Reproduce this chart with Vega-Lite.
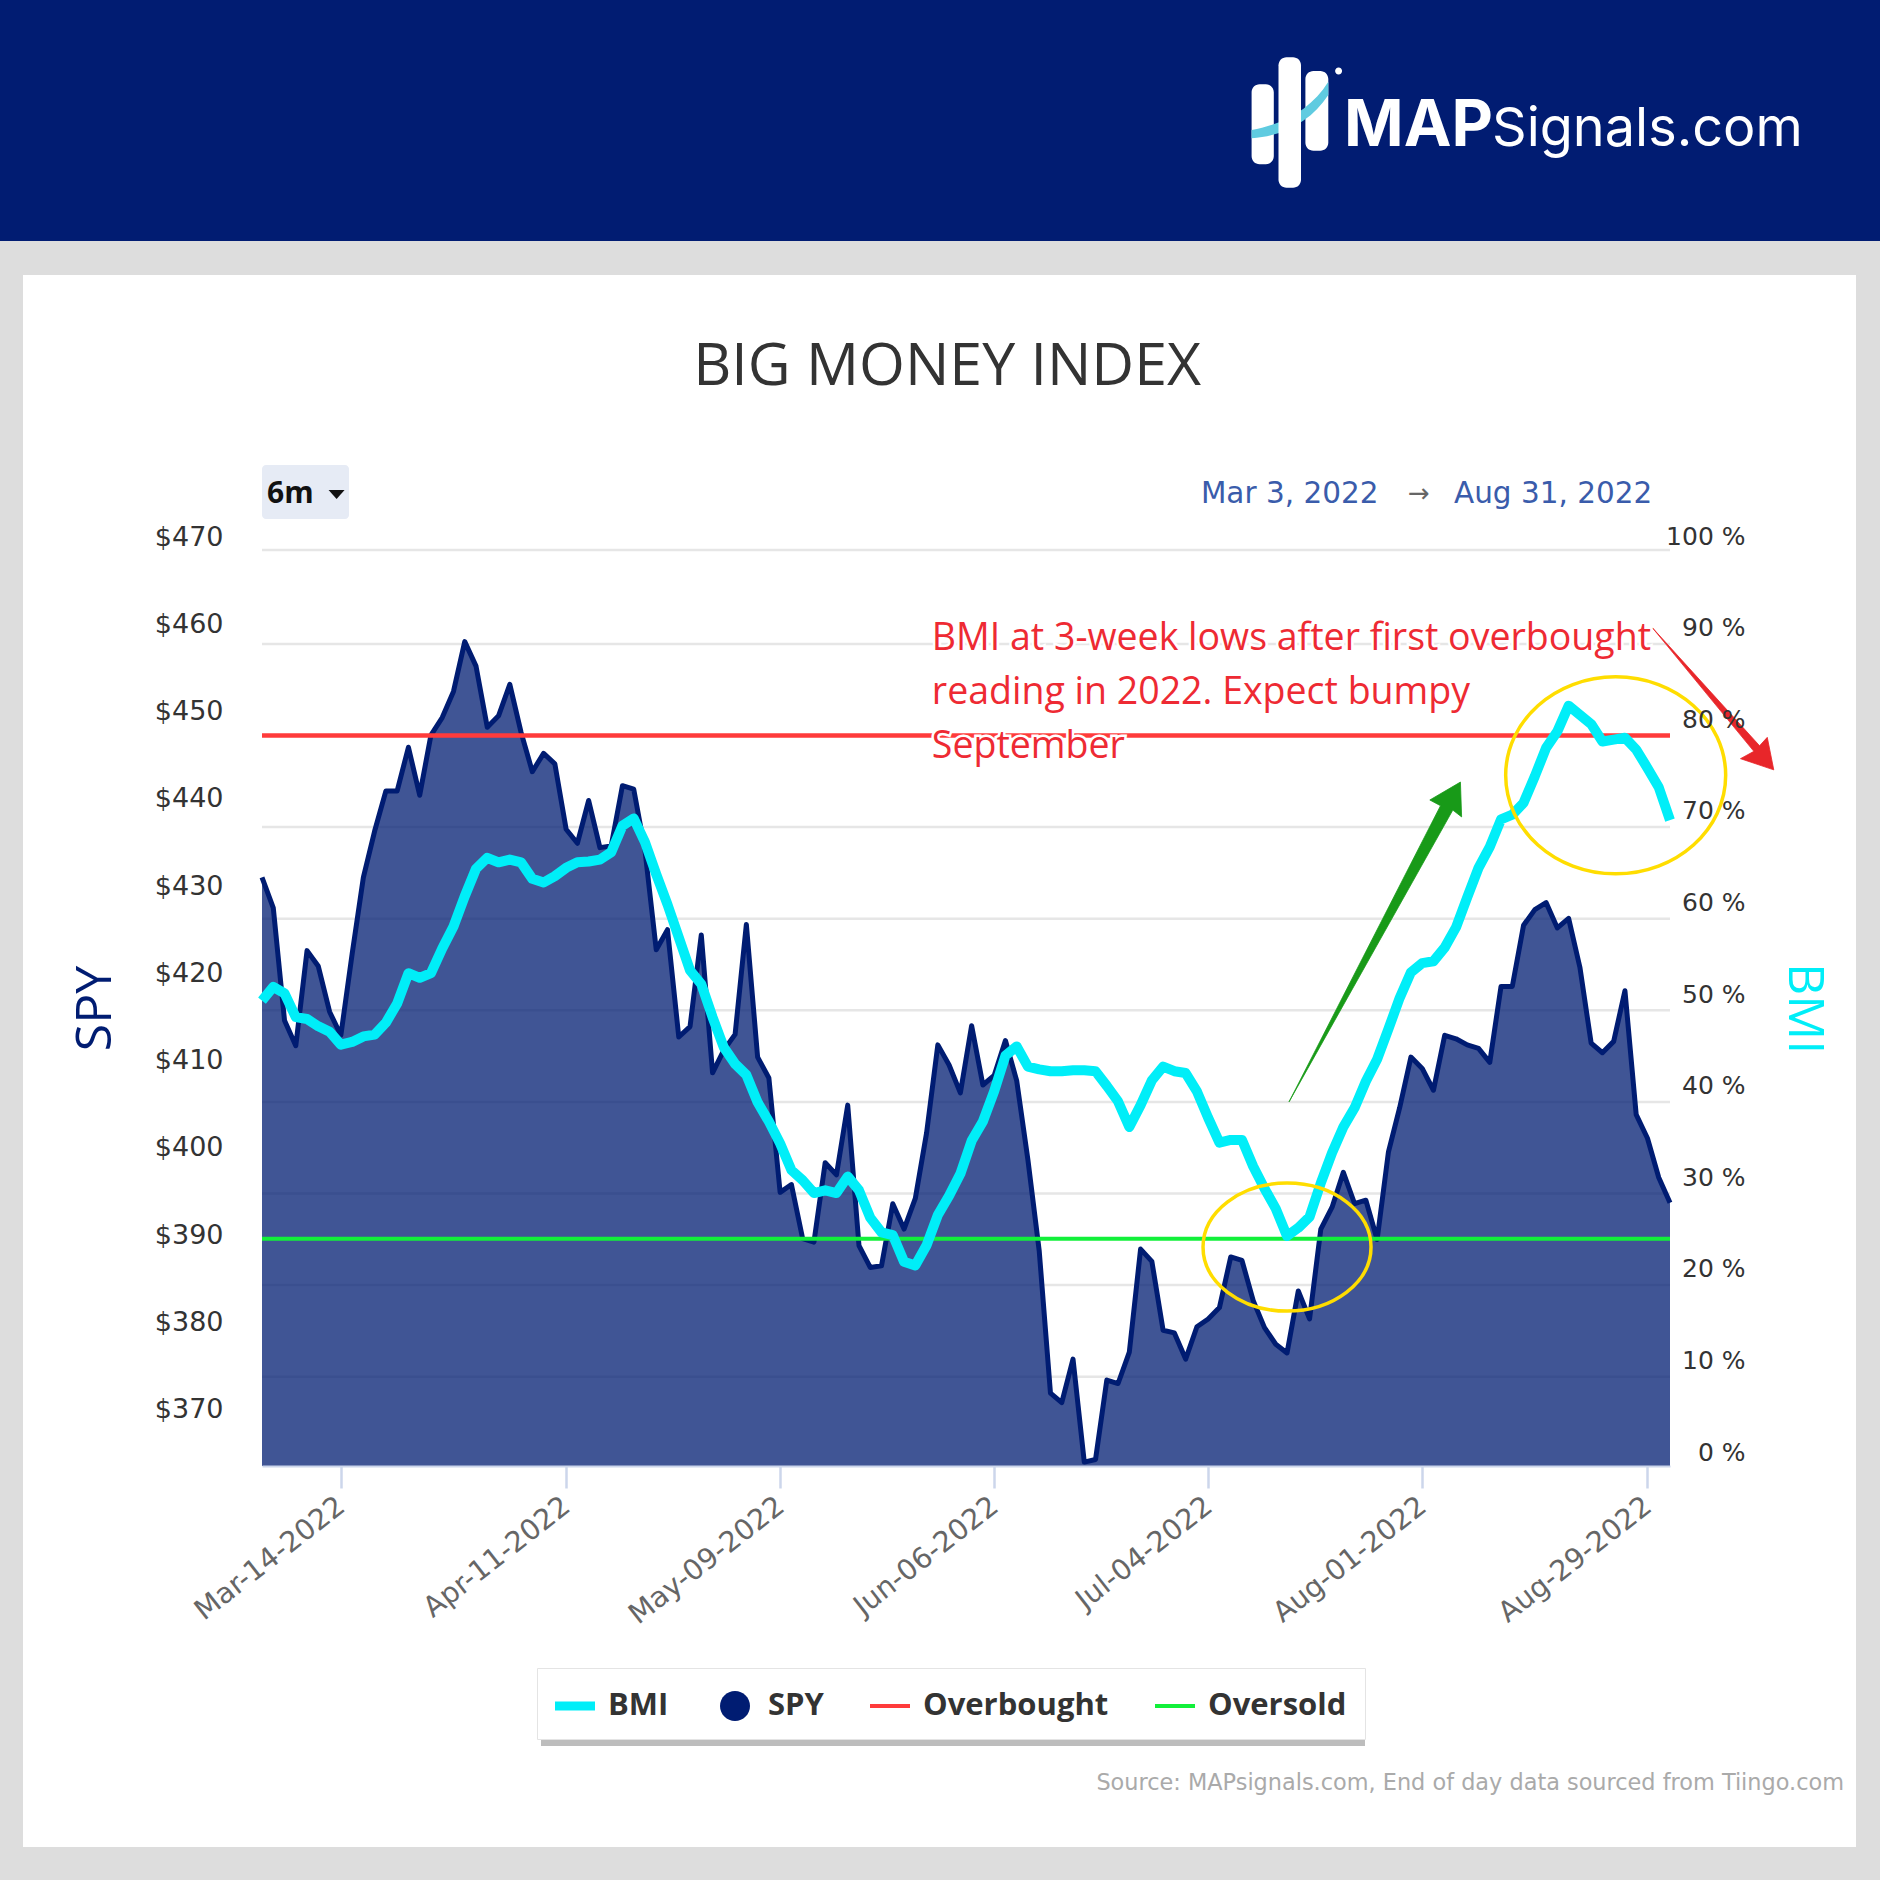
{"$schema":"https://vega.github.io/schema/vega-lite/v6.json","width":1408,"height":916,"autosize":"none","padding":{"left":262,"top":550,"right":210,"bottom":414},"background":"#dddddd","config":{"view":{"stroke":null}},"datasets":{"series":[{"date":"2022-03-03","spy":432.5,"bmi":50.8},{"date":"2022-03-04","spy":429.0,"bmi":52.3},{"date":"2022-03-07","spy":416.1,"bmi":51.6},{"date":"2022-03-08","spy":413.2,"bmi":49},{"date":"2022-03-09","spy":424.1,"bmi":48.8},{"date":"2022-03-10","spy":422.3,"bmi":48},{"date":"2022-03-11","spy":417.1,"bmi":47.4},{"date":"2022-03-14","spy":414.4,"bmi":46},{"date":"2022-03-15","spy":423.7,"bmi":46.3},{"date":"2022-03-16","spy":432.5,"bmi":46.9},{"date":"2022-03-17","spy":437.8,"bmi":47.1},{"date":"2022-03-18","spy":442.4,"bmi":48.4},{"date":"2022-03-21","spy":442.4,"bmi":50.5},{"date":"2022-03-22","spy":447.4,"bmi":53.8},{"date":"2022-03-23","spy":441.9,"bmi":53.3},{"date":"2022-03-24","spy":448.8,"bmi":53.8},{"date":"2022-03-25","spy":450.8,"bmi":56.5},{"date":"2022-03-28","spy":453.8,"bmi":58.9},{"date":"2022-03-29","spy":459.5,"bmi":62.2},{"date":"2022-03-30","spy":456.7,"bmi":65.2},{"date":"2022-03-31","spy":449.7,"bmi":66.4},{"date":"2022-04-01","spy":451,"bmi":65.9},{"date":"2022-04-04","spy":454.6,"bmi":66.2},{"date":"2022-04-05","spy":449.1,"bmi":65.9},{"date":"2022-04-06","spy":444.6,"bmi":64.1},{"date":"2022-04-07","spy":446.7,"bmi":63.7},{"date":"2022-04-08","spy":445.5,"bmi":64.4},{"date":"2022-04-11","spy":438,"bmi":65.3},{"date":"2022-04-12","spy":436.4,"bmi":65.9},{"date":"2022-04-13","spy":441.3,"bmi":66},{"date":"2022-04-14","spy":435.9,"bmi":66.2},{"date":"2022-04-18","spy":436.1,"bmi":67},{"date":"2022-04-19","spy":443,"bmi":69.9},{"date":"2022-04-20","spy":442.6,"bmi":70.7},{"date":"2022-04-21","spy":435.6,"bmi":68.1},{"date":"2022-04-22","spy":424.2,"bmi":64.6},{"date":"2022-04-25","spy":426.5,"bmi":61.3},{"date":"2022-04-26","spy":414.2,"bmi":57.7},{"date":"2022-04-27","spy":415.4,"bmi":54.1},{"date":"2022-04-28","spy":425.9,"bmi":52.6},{"date":"2022-04-29","spy":410.1,"bmi":49},{"date":"2022-05-02","spy":412.7,"bmi":45.7},{"date":"2022-05-03","spy":414.5,"bmi":43.9},{"date":"2022-05-04","spy":427.1,"bmi":42.7},{"date":"2022-05-05","spy":411.9,"bmi":39.7},{"date":"2022-05-06","spy":409.5,"bmi":37.6},{"date":"2022-05-09","spy":396.4,"bmi":35.2},{"date":"2022-05-10","spy":397.3,"bmi":32.3},{"date":"2022-05-11","spy":391.1,"bmi":31.2},{"date":"2022-05-12","spy":390.7,"bmi":29.8},{"date":"2022-05-13","spy":399.8,"bmi":30.1},{"date":"2022-05-16","spy":398.4,"bmi":29.8},{"date":"2022-05-17","spy":406.4,"bmi":31.6},{"date":"2022-05-18","spy":390.3,"bmi":30.1},{"date":"2022-05-19","spy":387.8,"bmi":27.1},{"date":"2022-05-20","spy":388,"bmi":25.5},{"date":"2022-05-23","spy":395.1,"bmi":25.2},{"date":"2022-05-24","spy":392.2,"bmi":22.3},{"date":"2022-05-25","spy":395.7,"bmi":21.9},{"date":"2022-05-26","spy":403.2,"bmi":24.1},{"date":"2022-05-27","spy":413.3,"bmi":27.4},{"date":"2022-05-31","spy":411,"bmi":29.5},{"date":"2022-06-01","spy":407.8,"bmi":31.9},{"date":"2022-06-02","spy":415.5,"bmi":35.5},{"date":"2022-06-03","spy":408.7,"bmi":37.6},{"date":"2022-06-06","spy":409.8,"bmi":40.9},{"date":"2022-06-07","spy":413.8,"bmi":44.8},{"date":"2022-06-08","spy":409.2,"bmi":45.8},{"date":"2022-06-09","spy":400.1,"bmi":43.6},{"date":"2022-06-10","spy":389.7,"bmi":43.3},{"date":"2022-06-13","spy":373.4,"bmi":43.1},{"date":"2022-06-14","spy":372.3,"bmi":43.1},{"date":"2022-06-15","spy":377.3,"bmi":43.2},{"date":"2022-06-16","spy":365.5,"bmi":43.2},{"date":"2022-06-17","spy":365.8,"bmi":43.1},{"date":"2022-06-21","spy":374.9,"bmi":41.5},{"date":"2022-06-22","spy":374.5,"bmi":39.8},{"date":"2022-06-23","spy":378.1,"bmi":37},{"date":"2022-06-24","spy":389.9,"bmi":39.4},{"date":"2022-06-27","spy":388.5,"bmi":42.1},{"date":"2022-06-28","spy":380.6,"bmi":43.6},{"date":"2022-06-29","spy":380.3,"bmi":43.1},{"date":"2022-06-30","spy":377.3,"bmi":42.9},{"date":"2022-07-01","spy":381,"bmi":40.9},{"date":"2022-07-05","spy":381.9,"bmi":38},{"date":"2022-07-06","spy":383.2,"bmi":35.3},{"date":"2022-07-07","spy":389,"bmi":35.6},{"date":"2022-07-08","spy":388.6,"bmi":35.6},{"date":"2022-07-11","spy":384,"bmi":32.7},{"date":"2022-07-12","spy":380.9,"bmi":30.3},{"date":"2022-07-13","spy":379,"bmi":28.1},{"date":"2022-07-14","spy":378,"bmi":25.1},{"date":"2022-07-15","spy":385.1,"bmi":26},{"date":"2022-07-18","spy":381.9,"bmi":27.2},{"date":"2022-07-19","spy":392.2,"bmi":30.9},{"date":"2022-07-20","spy":394.7,"bmi":34.2},{"date":"2022-07-21","spy":398.7,"bmi":37},{"date":"2022-07-22","spy":395.1,"bmi":39.1},{"date":"2022-07-25","spy":395.5,"bmi":42},{"date":"2022-07-26","spy":391,"bmi":44.4},{"date":"2022-07-27","spy":401,"bmi":47.7},{"date":"2022-07-28","spy":406.1,"bmi":51.1},{"date":"2022-07-29","spy":411.9,"bmi":53.9},{"date":"2022-08-01","spy":410.6,"bmi":54.9},{"date":"2022-08-02","spy":408.1,"bmi":55.1},{"date":"2022-08-03","spy":414.4,"bmi":56.6},{"date":"2022-08-04","spy":414,"bmi":58.8},{"date":"2022-08-05","spy":413.3,"bmi":62.1},{"date":"2022-08-08","spy":412.9,"bmi":65.3},{"date":"2022-08-09","spy":411.3,"bmi":67.6},{"date":"2022-08-10","spy":420,"bmi":70.6},{"date":"2022-08-11","spy":420,"bmi":71.1},{"date":"2022-08-12","spy":427,"bmi":72.4},{"date":"2022-08-15","spy":428.8,"bmi":75.3},{"date":"2022-08-16","spy":429.6,"bmi":78.4},{"date":"2022-08-17","spy":426.7,"bmi":80.2},{"date":"2022-08-18","spy":427.8,"bmi":83},{"date":"2022-08-19","spy":422.2,"bmi":82},{"date":"2022-08-22","spy":413.5,"bmi":81},{"date":"2022-08-23","spy":412.4,"bmi":79.1},{"date":"2022-08-24","spy":413.7,"bmi":79.3},{"date":"2022-08-25","spy":419.5,"bmi":79.5},{"date":"2022-08-26","spy":405.3,"bmi":78.2},{"date":"2022-08-29","spy":402.6,"bmi":76.2},{"date":"2022-08-30","spy":398.1,"bmi":74.1},{"date":"2022-08-31","spy":395.2,"bmi":70.5}],"grid":[{"pct":9.75},{"pct":19.75},{"pct":29.75},{"pct":39.75},{"pct":49.75},{"pct":59.75},{"pct":69.75},{"pct":79.75},{"pct":89.75},{"pct":100}],"one":[{"note":"page"}],"legend":[{"name":"BMI"},{"name":"SPY"},{"name":"Overbought"},{"name":"Oversold"}]},"data":{"name":"series"},"resolve":{"scale":{"y":"independent"},"axis":{"y":"independent"}},"layer":[{"data":{"name":"legend"},"mark":{"type":"point","filled":true,"opacity":1,"stroke":null},"encoding":{"color":{"field":"name","type":"nominal","scale":{"domain":["BMI","SPY","Overbought","Oversold"],"range":["#00eef8","#001c72","#ff3b3b","#12f03a"]},"legend":{"orient":"none","legendX":275,"legendY":1118,"direction":"horizontal","columns":4,"title":null,"fillColor":"#ffffff","strokeColor":"#e4e4e4","padding":18,"symbolSize":1600,"symbolStrokeWidth":0,"labelOffset":13,"columnPadding":46,"labelFont":"Open Sans","labelFontWeight":"bold","labelFontSize":31,"labelLimit":400,"labelColor":"#333333","zindex":1}},"shape":{"field":"name","type":"nominal","scale":{"domain":["BMI","SPY","Overbought","Oversold"],"range":["M-1,-0.22H1V0.22H-1Z","M-0.75,0A0.75,0.75 0 1 1 0.75,0A0.75,0.75 0 1 1 -0.75,0Z","M-1,-0.1H1V0.1H-1Z","M-1,-0.1H1V0.1H-1Z"]}}}},{"data":{"name":"one"},"mark":{"type":"rect","fill":"#011c72"},"encoding":{"x":{"value":-262},"x2":{"value":1618},"y":{"value":-550},"y2":{"value":-309}}},{"data":{"name":"one"},"mark":{"type":"rect","fill":"#ffffff"},"encoding":{"x":{"value":-239},"x2":{"value":1594},"y":{"value":-275},"y2":{"value":1297}}},{"data":{"name":"one"},"mark":{"type":"rect","fill":"#bdbdbd"},"encoding":{"x":{"value":279},"x2":{"value":1103},"y":{"value":1123},"y2":{"value":1196}}},{"data":{"name":"one"},"mark":{"type":"rect","fill":"#e6ebf5","cornerRadius":4},"encoding":{"x":{"value":0},"x2":{"value":87},"y":{"value":-85},"y2":{"value":-31}}},{"data":{"name":"grid"},"mark":{"type":"rule","color":"#e6e6e6","strokeWidth":2.5},"encoding":{"y":{"field":"pct","type":"quantitative","scale":{"domain":[0,100]},"axis":null}}},{"mark":{"type":"area","color":"#001c72","opacity":0.75},"encoding":{"x":{"field":"date","type":"ordinal","scale":{"type":"point","padding":0},"title":null,"axis":{"values":["2022-03-14","2022-04-11","2022-05-09","2022-06-06","2022-07-05","2022-08-01","2022-08-29"],"labelExpr":"datum.value=='2022-07-05'?'Jul-04-2022':timeFormat(toDate(datum.value+'T00:00:00'),'%b-%d-%Y')","labelAngle":-38,"labelAlign":"right","labelBaseline":"middle","labelFont":"DejaVu Sans","labelFontSize":28.5,"labelLimit":400,"labelColor":"#666666","labelPadding":14,"labelOverlap":false,"labelBound":false,"labelFlush":false,"tickColor":"#ccd6eb","tickSize":22,"tickWidth":2.5,"domainColor":"#ccd6eb","domainWidth":2,"grid":false,"zindex":1}},"y":{"field":"spy","type":"quantitative","scale":{"domain":[365.05,470],"zero":false,"nice":false},"axis":{"orient":"left","values":[370,380,390,400,410,420,430,440,450,460,470],"labelExpr":"'$'+datum.value","labelFont":"DejaVu Sans","labelFontSize":27,"labelColor":"#333333","labelPadding":39,"labelOffset":-13,"labelOverlap":false,"labelBound":false,"labelFlush":false,"ticks":false,"domain":false,"grid":false,"title":"SPY","titleFont":"Open Sans","titleFontSize":50,"titleFontWeight":"normal","titleColor":"#001c72","titleX":-167,"titleY":458,"titleAngle":-90,"titleBaseline":"middle","titleAlign":"center","zindex":1}},"y2":{"datum":365.05}}},{"mark":{"type":"line","color":"#001c72","strokeWidth":5,"strokeJoin":"round"},"encoding":{"x":{"field":"date","type":"ordinal"},"y":{"field":"spy","type":"quantitative","scale":{"domain":[365.05,470],"zero":false,"nice":false},"axis":null}}},{"data":{"name":"one"},"mark":{"type":"rule","color":"#ff3b3b","strokeWidth":4.5},"encoding":{"y":{"datum":79.75,"type":"quantitative","scale":{"domain":[0,100]},"axis":null}}},{"data":{"name":"one"},"mark":{"type":"rule","color":"#12f03a","strokeWidth":4},"encoding":{"y":{"datum":24.8,"type":"quantitative","scale":{"domain":[0,100]},"axis":null}}},{"mark":{"type":"line","color":"#00eef8","strokeWidth":10,"strokeJoin":"round"},"encoding":{"x":{"field":"date","type":"ordinal"},"y":{"field":"bmi","type":"quantitative","scale":{"domain":[0,100]},"axis":{"orient":"right","values":[0,10,20,30,40,50,60,70,80,90,100],"labelExpr":"datum.value+' %'","labelFont":"DejaVu Sans","labelFontSize":25,"labelColor":"#333333","labelAlign":"right","labelPadding":75,"labelOffset":-14,"labelOverlap":false,"labelBound":false,"labelFlush":false,"ticks":false,"domain":false,"grid":false,"title":"BMI","titleFont":"Open Sans","titleFontSize":50,"titleFontWeight":"normal","titleColor":"#00eef8","titleX":133,"titleY":458,"titleAngle":90,"titleBaseline":"middle","titleAlign":"center","zindex":1}}}},{"data":{"name":"one"},"mark":{"type":"point","shape":"M-110,0A110,98.5 0 1 1 110,0A110,98.5 0 1 1 -110,0Z","size":4,"filled":false,"stroke":"#ffdd00","strokeWidth":3.5,"opacity":1,"xOffset":2},"encoding":{"x":{"datum":"2022-08-24","type":"ordinal"},"y":{"datum":75.4,"type":"quantitative","scale":{"domain":[0,100]},"axis":null}}},{"data":{"name":"one"},"mark":{"type":"point","shape":"M-84,0A84,64 0 1 1 84,0A84,64 0 1 1 -84,0Z","size":4,"filled":false,"stroke":"#ffdd00","strokeWidth":3.5,"opacity":1},"encoding":{"x":{"datum":"2022-07-14","type":"ordinal"},"y":{"datum":23.9,"type":"quantitative","scale":{"domain":[0,100]},"axis":null}}},{"data":{"name":"one"},"mark":{"type":"point","shape":"M2,0L153.5,-296.2L142.8,-301.9L173.4,-319.8L174.6,-285L165.8,-291.8Z","size":4,"filled":true,"fill":"#189a18","stroke":"#189a18","strokeWidth":0.8,"opacity":1},"encoding":{"x":{"datum":"2022-07-14","type":"ordinal"},"y":{"datum":39.75,"type":"quantitative","scale":{"domain":[0,100]},"axis":null}}},{"data":{"name":"one"},"mark":{"type":"point","shape":"M5,0L106.4,123.5L93,130.8L126.3,142L119.8,109.5L112.1,117.9Z","size":4,"filled":true,"fill":"#e8262a","stroke":"#e8262a","strokeWidth":0.8,"opacity":1},"encoding":{"x":{"datum":"2022-08-29","type":"ordinal"},"y":{"datum":91.5,"type":"quantitative","scale":{"domain":[0,100]},"axis":null}}},{"data":{"name":"one"},"mark":{"type":"text","text":["BMI at 3-week lows after first overbought","reading in 2022. Expect bumpy","September"],"align":"left","baseline":"middle","dx":-6,"font":"Open Sans","fontSize":37.5,"lineHeight":54,"fill":"#ffffff","stroke":"#ffffff","strokeWidth":5},"encoding":{"x":{"datum":"2022-05-27","type":"ordinal"},"y":{"datum":90.3,"type":"quantitative","scale":{"domain":[0,100]},"axis":null}}},{"data":{"name":"one"},"mark":{"type":"text","text":["BMI at 3-week lows after first overbought","reading in 2022. Expect bumpy","September"],"align":"left","baseline":"middle","dx":-6,"font":"Open Sans","fontSize":37.5,"lineHeight":54,"fill":"#ee2a33"},"encoding":{"x":{"datum":"2022-05-27","type":"ordinal"},"y":{"datum":90.3,"type":"quantitative","scale":{"domain":[0,100]},"axis":null}}},{"data":{"name":"one"},"mark":{"type":"text","text":"BIG MONEY INDEX","align":"center","baseline":"middle","dx":-2,"font":"Open Sans","fontSize":59,"fill":"#333333"},"encoding":{"x":{"datum":"2022-05-31","type":"ordinal"},"y":{"datum":120,"type":"quantitative","scale":{"domain":[0,100]},"axis":null}}},{"data":{"name":"one"},"mark":{"type":"text","text":"6m","align":"left","baseline":"middle","dx":5,"font":"Open Sans","fontWeight":"bold","fontSize":30,"fill":"#111111"},"encoding":{"x":{"datum":"2022-03-03","type":"ordinal"},"y":{"datum":106.1,"type":"quantitative","scale":{"domain":[0,100]},"axis":null}}},{"data":{"name":"one"},"mark":{"type":"point","shape":"M-1,-4H15L7,5Z","size":4,"filled":true,"fill":"#111111","stroke":null,"opacity":1},"encoding":{"x":{"datum":"2022-03-11","type":"ordinal"},"y":{"datum":106.1,"type":"quantitative","scale":{"domain":[0,100]},"axis":null}}},{"data":{"name":"one"},"mark":{"type":"text","text":"Mar 3, 2022","align":"left","baseline":"middle","dx":4,"font":"DejaVu Sans","fontSize":29.5,"fill":"#3a5cab"},"encoding":{"x":{"datum":"2022-07-01","type":"ordinal"},"y":{"datum":106.1,"type":"quantitative","scale":{"domain":[0,100]},"axis":null}}},{"data":{"name":"one"},"mark":{"type":"text","text":"→","align":"center","baseline":"middle","dx":8,"font":"DejaVu Sans","fontSize":26,"fill":"#666666"},"encoding":{"x":{"datum":"2022-07-29","type":"ordinal"},"y":{"datum":106.1,"type":"quantitative","scale":{"domain":[0,100]},"axis":null}}},{"data":{"name":"one"},"mark":{"type":"text","text":"Aug 31, 2022","align":"left","baseline":"middle","dx":-2,"font":"DejaVu Sans","fontSize":29.5,"fill":"#3a5cab"},"encoding":{"x":{"datum":"2022-08-04","type":"ordinal"},"y":{"datum":106.1,"type":"quantitative","scale":{"domain":[0,100]},"axis":null}}},{"data":{"name":"one"},"mark":{"type":"text","text":"Source: MAPsignals.com, End of day data sourced from Tiingo.com","align":"right","baseline":"middle","dx":174,"font":"DejaVu Sans","fontSize":22.4,"fill":"#aaaaaa"},"encoding":{"x":{"datum":"2022-08-31","type":"ordinal"},"y":{"datum":-34.6,"type":"quantitative","scale":{"domain":[0,100]},"axis":null}}},{"data":{"name":"one"},"mark":{"type":"point","shape":"M-30.4,-37.7H-24.2A8,8 0 0 1 -16.2,-29.7V34.3A8,8 0 0 1 -24.2,42.3H-30.4A8,8 0 0 1 -38.4,34.3V-29.7A8,8 0 0 1 -30.4,-37.7ZM23.4,-51H30.3A8,8 0 0 1 38.3,-43V20.7A8,8 0 0 1 30.3,28.7H23.4A8,8 0 0 1 15.4,20.7V-43A8,8 0 0 1 23.4,-51ZM45.1,-51A3.5,3.5 0 1 1 52.1,-51A3.5,3.5 0 1 1 45.1,-51Z","size":4,"filled":true,"fill":"#ffffff","stroke":null,"opacity":1},"encoding":{"x":{"value":1028},"y":{"value":-428}}},{"data":{"name":"one"},"mark":{"type":"point","shape":"M-38.4,8C-5,2 22,-14 38.3,-40.3V-27C22,-2 -5,14 -38.4,16.3Z","size":4,"filled":true,"fill":"#5fcbe0","stroke":null,"opacity":1},"encoding":{"x":{"value":1028},"y":{"value":-428}}},{"data":{"name":"one"},"mark":{"type":"point","shape":"M-3.5,-64.7H3A8,8 0 0 1 11,-56.7V57.7A8,8 0 0 1 3,65.7H-3.5A8,8 0 0 1 -11.5,57.7V-56.7A8,8 0 0 1 -3.5,-64.7Z","size":4,"filled":true,"fill":"#ffffff","stroke":null,"opacity":1},"encoding":{"x":{"value":1028},"y":{"value":-428}}},{"data":{"name":"one"},"mark":{"type":"text","text":"MAP","align":"left","baseline":"alphabetic","font":"Inter","fontWeight":"bold","fontSize":64,"fill":"#ffffff"},"encoding":{"x":{"value":1082},"y":{"value":-404}}},{"data":{"name":"one"},"mark":{"type":"text","text":"Signals.com","align":"left","baseline":"alphabetic","font":"Inter","fontSize":54,"fill":"#ffffff"},"encoding":{"x":{"value":1230},"y":{"value":-404}}}]}
